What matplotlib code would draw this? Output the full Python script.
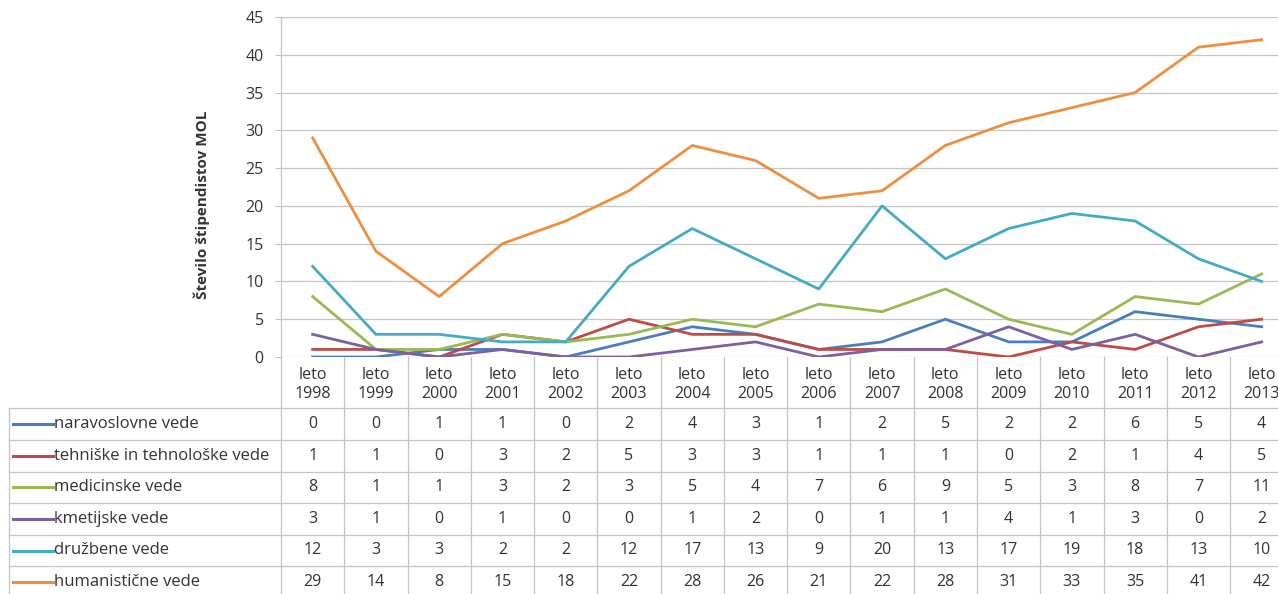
import numpy as np
import matplotlib
matplotlib.use("Agg")
import matplotlib.pyplot as plt
from matplotlib.transforms import Affine2D, blended_transform_factory

plt.rcParams['font.family'] = ['Open Sans', 'DejaVu Sans']

years = ["1998", "1999", "2000", "2001", "2002", "2003", "2004", "2005",
         "2006", "2007", "2008", "2009", "2010", "2011", "2012", "2013"]
categories = [f"leto\n{y}" for y in years]

series_names = ["naravoslovne vede", "tehniške in tehnološke vede", "medicinske vede",
                "kmetijske vede", "družbene vede", "humanistične vede"]
naravoslovne = [0, 0, 1, 1, 0, 2, 4, 3, 1, 2, 5, 2, 2, 6, 5, 4]
tehniske = [1, 1, 0, 3, 2, 5, 3, 3, 1, 1, 1, 0, 2, 1, 4, 5]
medicinske = [8, 1, 1, 3, 2, 3, 5, 4, 7, 6, 9, 5, 3, 8, 7, 11]
kmetijske = [3, 1, 0, 1, 0, 0, 1, 2, 0, 1, 1, 4, 1, 3, 0, 2]
druzbene = [12, 3, 3, 2, 2, 12, 17, 13, 9, 20, 13, 17, 19, 18, 13, 10]
humanisticne = [29, 14, 8, 15, 18, 22, 28, 26, 21, 22, 28, 31, 33, 35, 41, 42]
series_values = [naravoslovne, tehniske, medicinske, kmetijske, druzbene, humanisticne]
colors = ["#4A7EBB", "#BE4B48", "#98B954", "#7D60A0", "#46AAC5", "#EC9040"]

W, H = 1278, 594
fig = plt.figure(figsize=(W / 100, H / 100), dpi=100)

# geometry in pixels
x_left, col_w = 281, 63.27
x_right = x_left + 16 * col_w
y_top, y_zero = 17, 357
hdr_h, row_h = 51.3, 31.6
tab_h = hdr_h + 6 * row_h
lab_left = 9

grid_c = "#C4C4C4"
text_c = "#333333"
fs = 11.5

ax = fig.add_axes([x_left / W, (H - y_zero) / H, (x_right - x_left) / W, (y_zero - y_top) / H])
x = np.arange(len(years))
for vals, c in zip(series_values, colors):
    ax.plot(x, vals, color=c, lw=2.0, solid_joinstyle='round', zorder=3)
ax.set_xlim(-0.5, 15.5)
ax.set_ylim(0, 45)
ax.set_yticks(range(0, 46, 5))
ax.tick_params(axis='y', length=4.5, width=0.8, color=grid_c, labelsize=fs,
               labelcolor=text_c, pad=8)
ax.set_xticks([])
ax.grid(axis='y', color=grid_c, lw=0.9)
ax.set_axisbelow(True)
for s in ['top', 'right', 'bottom']:
    ax.spines[s].set_visible(False)
ax.spines['left'].set_color(grid_c)
ax.spines['left'].set_linewidth(0.9)
ax.set_ylabel("Število štipendistov MOL", fontsize=11, fontweight='bold',
              color=text_c, va='center')
ax.yaxis.set_label_coords((202 - x_left) / (x_right - x_left), (y_zero - 205) / (y_zero - y_top))

# data table
tab = fig.add_axes([x_left / W, (H - y_zero - tab_h) / H, (x_right - x_left) / W, tab_h / H],
                   sharex=ax)
tab.set_ylim(tab_h, 0)
tab.axis('off')
pxx = Affine2D().scale(1 / W, 1) + fig.transFigure
tr_lab = blended_transform_factory(pxx, tab.transData)

for k in range(17):
    tab.plot([k - 0.5, k - 0.5], [0, tab_h], color=grid_c, lw=0.9, clip_on=False)
for i in range(7):
    yb = hdr_h + i * row_h
    tab.plot([lab_left, x_left], [yb, yb], color=grid_c, lw=0.9, transform=tr_lab, clip_on=False)
    tab.plot([-0.5, 15.5], [yb, yb], color=grid_c, lw=0.9, clip_on=False)
tab.plot([lab_left, lab_left], [hdr_h, tab_h], color=grid_c, lw=0.9, transform=tr_lab, clip_on=False)

for k, cat in enumerate(categories):
    tab.text(k, hdr_h / 2 + 2, cat, ha='center', va='center', fontsize=fs,
             color=text_c, linespacing=1.3, clip_on=False)

for i, (name, vals, c) in enumerate(zip(series_names, series_values, colors)):
    yc = hdr_h + (i + 0.5) * row_h
    tab.plot([13, 53], [yc, yc], color=c, lw=2.2, transform=tr_lab, clip_on=False)
    tab.text(54, yc, name, ha='left', va='center', fontsize=12, color=text_c,
             transform=tr_lab, clip_on=False)
    for k, v in enumerate(vals):
        tab.text(k, yc, str(v), ha='center', va='center', fontsize=fs,
                 color=text_c, clip_on=False)

fig.savefig("out.png", dpi=100)
